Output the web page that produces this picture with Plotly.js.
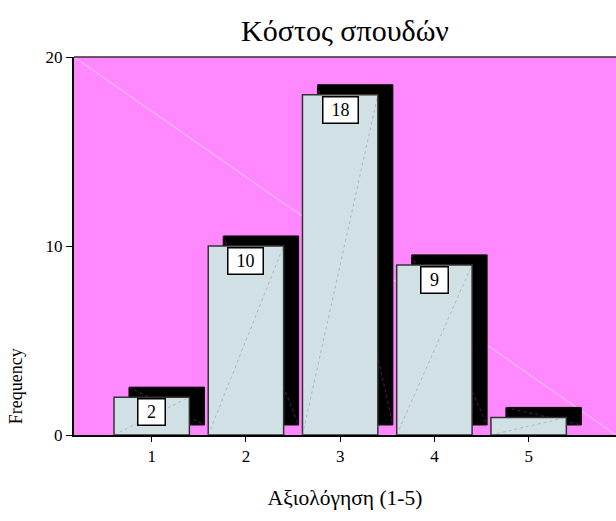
<!DOCTYPE html>
<html>
<head>
<meta charset="utf-8">
<script src="https://cdn.plot.ly/plotly-3.0.1.min.js"></script>
<style>html,body{margin:0;padding:0;background:#fff}#chart{width:616px;height:521px}</style>
</head>
<body>
<div id="chart"></div>
<script>
// ---- data ----
const categories = [1, 2, 3, 4, 5];
const frequencies = [2, 10, 18, 9, 0.93];
const valueLabels = ['2', '10', '18', '9', ''];
const yTicks = [0, 10, 20];
const chartTitle = 'Κόστος σπουδών';
const xTitle = 'Αξιολόγηση (1-5)';
const yTitle = 'Frequency';

// ---- style ----
const FONT = 'Liberation Serif, Times New Roman, serif';
const BAR_W = 0.80;
const SHADOW_DX = 0.159;
const SHADOW_DY = 0.53;
const XR = [0.1755, 5.927];
const YR = [0, 20];

const shadow = {
  type: 'bar', x: categories.map(c => c + SHADOW_DX), y: frequencies,
  base: frequencies.map(() => SHADOW_DY), width: BAR_W,
  marker: {color: '#000000', line: {color: '#000000', width: 1}},
  xaxis: 'x', yaxis: 'y', hoverinfo: 'skip', showlegend: false
};
const shadowDiagX = [], shadowDiagY = [];
categories.forEach((c, i) => {
  shadowDiagX.push(c + SHADOW_DX - BAR_W / 2, c + SHADOW_DX + BAR_W / 2, null);
  shadowDiagY.push(frequencies[i] + SHADOW_DY, SHADOW_DY, null);
});
const shadowDiag = {
  type: 'scatter', mode: 'lines', x: shadowDiagX, y: shadowDiagY,
  line: {color: 'rgba(150,40,150,0.8)', width: 0.8, dash: 'dot'},
  xaxis: 'x', yaxis: 'y', hoverinfo: 'skip', showlegend: false
};
const bars = {
  type: 'bar', x: categories, y: frequencies, width: BAR_W,
  marker: {color: '#D1E0E4', line: {color: '#333333', width: 1.5}},
  xaxis: 'x2', yaxis: 'y2', hoverinfo: 'skip', showlegend: false
};
const barDiagX = [], barDiagY = [];
categories.forEach((c, i) => {
  barDiagX.push(c - BAR_W / 2, c + BAR_W / 2, null);
  barDiagY.push(0, frequencies[i], null);
});
const barDiag = {
  type: 'scatter', mode: 'lines', x: barDiagX, y: barDiagY,
  line: {color: 'rgba(120,135,150,0.55)', width: 0.8, dash: 'dot'},
  xaxis: 'x2', yaxis: 'y2', hoverinfo: 'skip', showlegend: false
};

const annotations = [];
categories.forEach((c, i) => {
  if (!valueLabels[i]) return;
  annotations.push({
    x: c, y: frequencies[i], xref: 'x2', yref: 'y2',
    text: valueLabels[i], showarrow: false, yanchor: 'top', yshift: -1,
    bgcolor: '#ffffff', bordercolor: '#000000', borderwidth: 1.5, borderpad: 0,
    width: valueLabels[i].length > 1 ? 34 : 26, height: 25,
    font: {family: FONT, size: 18, color: '#000'}
  });
});
annotations.push({
  text: yTitle, textangle: -90, showarrow: false,
  xref: 'paper', yref: 'paper', x: -0.108, y: 0.13,
  xanchor: 'center', yanchor: 'middle',
  font: {family: FONT, size: 18, color: '#000'}
});

const layout = {
  width: 616, height: 521,
  margin: {l: 74, r: 0, t: 57, b: 86},
  paper_bgcolor: '#ffffff', plot_bgcolor: '#FF88FF',
  barmode: 'overlay', showlegend: false,
  title: {text: chartTitle, x: 0.5, xref: 'paper', y: 1 - 30 / 521, yref: 'container',
          xanchor: 'center', yanchor: 'middle',
          font: {family: FONT, size: 30, color: '#000'}},
  xaxis: {range: XR, tickvals: categories, ticktext: categories.map(String),
          ticks: 'outside', ticklen: 5, tickcolor: '#000', tickwidth: 1,
          showline: true, linecolor: '#000', linewidth: 2,
          showgrid: false, zeroline: false, fixedrange: true,
          tickfont: {family: FONT, size: 17, color: '#000'},
          title: {text: xTitle, standoff: 25, font: {family: FONT, size: 21.5, color: '#000'}}},
  yaxis: {range: YR, tickvals: yTicks, ticks: 'outside', ticklen: 6, tickcolor: '#000', tickwidth: 1,
          showline: true, linecolor: '#000', linewidth: 2,
          showgrid: false, zeroline: false, fixedrange: true,
          tickfont: {family: FONT, size: 17, color: '#000'}},
  xaxis2: {range: XR, overlaying: 'x', visible: false, fixedrange: true},
  yaxis2: {range: YR, overlaying: 'y', visible: false, fixedrange: true},
  shapes: [
    {type: 'line', xref: 'paper', yref: 'paper', x0: 0, y0: 1, x1: 1, y1: 0,
     line: {color: 'rgba(255,255,255,0.55)', width: 1}, layer: 'below'},
    {type: 'line', xref: 'paper', yref: 'paper', x0: 0, y0: 1, x1: 1, y1: 1,
     line: {color: '#333', width: 1.5}, layer: 'above'}
  ],
  annotations: annotations
};

Plotly.newPlot('chart', [shadow, shadowDiag, bars, barDiag], layout, {staticPlot: true, displayModeBar: false});
</script>
</body>
</html>
